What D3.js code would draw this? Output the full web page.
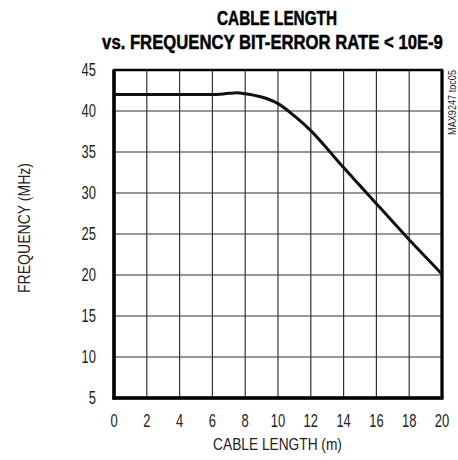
<!DOCTYPE html>
<html><head><meta charset="utf-8">
<script src="https://cdn.jsdelivr.net/npm/d3@7"></script>
<style>
html,body{margin:0;padding:0;background:#fff;}
text{font-family:"Liberation Sans","Arimo","Helvetica",sans-serif;}
</style></head>
<body><svg id="c" width="458" height="460"></svg>
<script>
const titleLines = ["CABLE LENGTH", "vs. FREQUENCY BIT-ERROR RATE < 10E-9"];
const xLabel = "CABLE LENGTH (m)";
const yLabel = "FREQUENCY (MHz)";
const noteLabel = "MAX9247 toc05";
const xTicks = [0,2,4,6,8,10,12,14,16,18,20];
const yTicks = [5,10,15,20,25,30,35,40,45];
const cableLength = [0,2,4,6,7,7.5,8,9,10,11,12,13,14,15,16,17,18,19,20];
const frequency = [42,42,42,42,42.15,42.22,42.1,41.7,40.9,39.4,37.6,35.4,33.1,30.9,28.7,26.5,24.3,22.2,20.1];

const svg = d3.select("#c");
const L=114, R=442, T=70, B=398;
const x = d3.scaleLinear().domain([0,20]).range([L,R]);
const y = d3.scaleLinear().domain([5,45]).range([B,T]);
const SX = 0.74; // condensed look

// place a text centred at (cx, by), squeezed horizontally to width w, optional rotation
function fitText(str, cx, by, w, size, rot, attrs) {
  const t = svg.append("text").attr("font-size", size).attr("text-anchor","middle").text(str);
  Object.entries(attrs||{}).forEach(([k,v])=>t.attr(k,v));
  const nat = t.node().getComputedTextLength();
  const s = w / nat;
  t.attr("transform", `translate(${cx},${by}) rotate(${rot||0}) scale(${s},1)`);
  return t;
}

// grid
svg.append("g").selectAll("line").data(xTicks.slice(1,-1)).join("line")
  .attr("x1",d=>x(d)).attr("x2",d=>x(d)).attr("y1",T).attr("y2",B)
  .attr("stroke","#333").attr("stroke-width",1.2);
svg.append("g").selectAll("line").data(yTicks.slice(1,-1)).join("line")
  .attr("y1",d=>y(d)).attr("y2",d=>y(d)).attr("x1",L).attr("x2",R)
  .attr("stroke","#333").attr("stroke-width",1.2);

// frame
svg.append("rect").attr("x",L).attr("y",T).attr("width",R-L).attr("height",B-T)
  .attr("fill","none").attr("stroke","#000").attr("stroke-width",2.5);
svg.append("line").attr("x1",L).attr("x2",L).attr("y1",T).attr("y2",B+1.5).attr("stroke","#000").attr("stroke-width",3.5);
svg.append("line").attr("x1",L-1.5).attr("x2",R+1.5).attr("y1",B).attr("y2",B).attr("stroke","#000").attr("stroke-width",3.5);
svg.append("line").attr("x1",R).attr("x2",R).attr("y1",T).attr("y2",B).attr("stroke","#000").attr("stroke-width",3);

// curve
const pts = cableLength.map((d,i)=>[d,frequency[i]]);
svg.append("path").datum(pts)
  .attr("d", d3.line().x(d=>x(d[0])).y(d=>y(d[1])).curve(d3.curveMonotoneX))
  .attr("fill","none").attr("stroke","#111").attr("stroke-width",3);

// tick labels
svg.append("g").selectAll("text").data(yTicks).join("text")
  .attr("transform",d=>`translate(96,${y(d)+6}) scale(${SX},1)`).attr("text-anchor","end")
  .attr("font-size",17.5).attr("fill","#222").text(d=>d);
svg.append("g").selectAll("text").data(xTicks).join("text")
  .attr("transform",d=>`translate(${x(d)},427) scale(${SX},1)`).attr("text-anchor","middle")
  .attr("font-size",17.5).attr("fill","#222").text(d=>d);

// axis titles
fitText(xLabel, 277.5, 450, 129, 17, 0, {fill:"#222"});
fitText(yLabel, 30, 228, 130, 17, -90, {fill:"#222"});
fitText(noteLabel, 455.5, 102.5, 65, 10, -90, {fill:"#222"});

// title
const tAttrs = {fill:"#000","font-weight":"bold",stroke:"#000","stroke-width":0.5};
fitText(titleLines[0], 277, 25, 120, 21, 0, tAttrs);
fitText(titleLines[1], 272.5, 48.5, 341, 21, 0, tAttrs);
</script></body></html>
